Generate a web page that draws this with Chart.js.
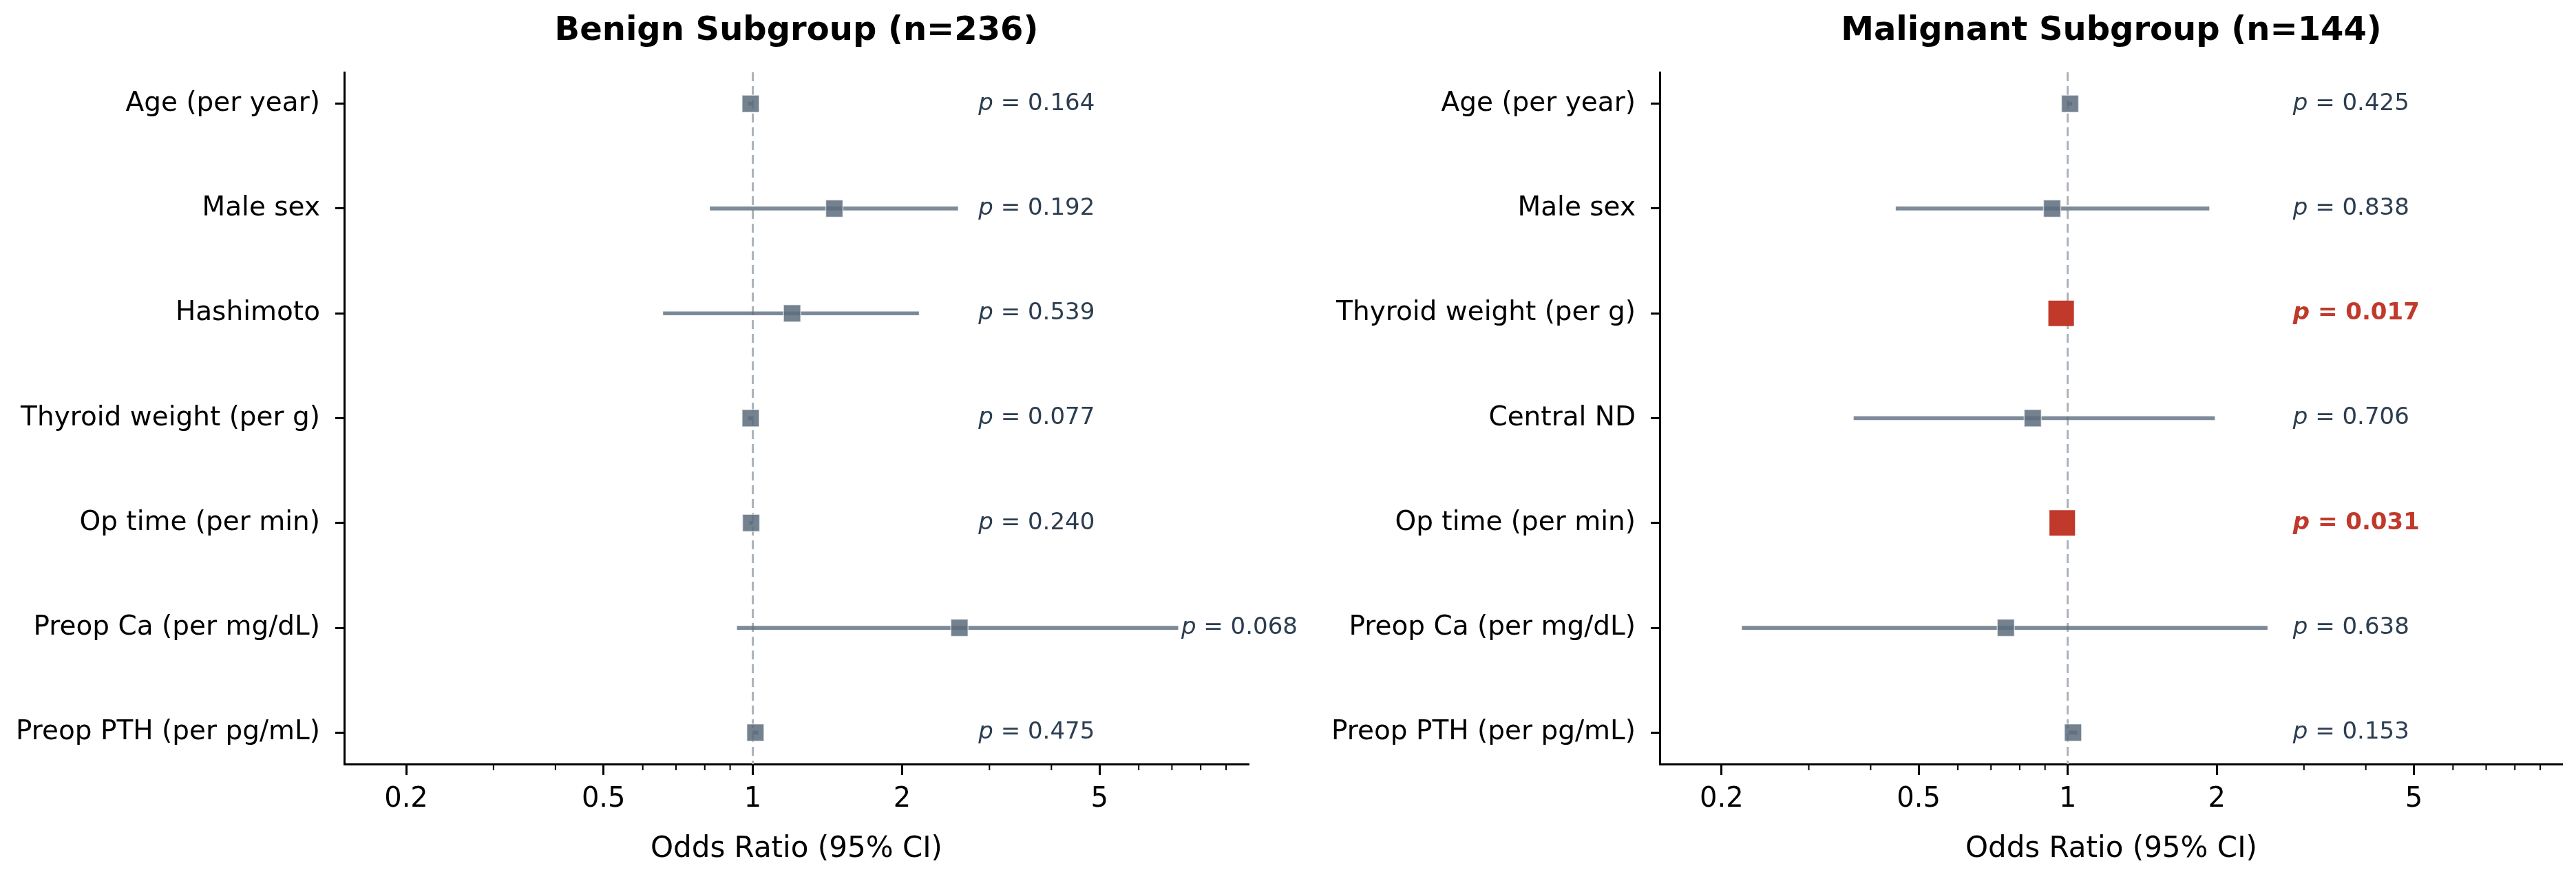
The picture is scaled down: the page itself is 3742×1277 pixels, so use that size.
<!DOCTYPE html>
<html>
<head>
<meta charset="utf-8">
<script src="https://cdn.jsdelivr.net/npm/chart.js@4.4.0/dist/chart.umd.min.js"></script>
<style>
  html, body { margin: 0; padding: 0; background: #fff; overflow: hidden; }
  #wrap { position: relative; width: 3742px; height: 1277px; }
  #wrap canvas { position: absolute; top: 0; }
</style>
</head>
<body>
<div id="wrap">
  <canvas id="chartBenign" width="1910" height="1277" style="left:0"></canvas>
  <canvas id="chartMalignant" width="1832" height="1277" style="left:1910px"></canvas>
</div>
<script>
// benign subgroup (n=236)
const benignFactors = ['Age (per year)', 'Male sex', 'Hashimoto', 'Thyroid weight (per g)',
  'Op time (per min)', 'Preop Ca (per mg/dL)', 'Preop PTH (per pg/mL)'];
const benignOR   = [0.99, 1.46, 1.20, 0.99, 0.992, 2.61, 1.012];
const benignLow  = [0.98, 0.82, 0.66, 0.98, 0.985, 0.93, 1.00];
const benignHigh = [1.00, 2.59, 2.16, 1.00, 1.00, 7.20, 1.025];
const benignP    = ['0.164', '0.192', '0.539', '0.077', '0.240', '0.068', '0.475'];

// malignant subgroup (n=144)
const malignantFactors = ['Age (per year)', 'Male sex', 'Thyroid weight (per g)', 'Central ND',
  'Op time (per min)', 'Preop Ca (per mg/dL)', 'Preop PTH (per pg/mL)'];
const malignantOR   = [1.011, 0.93, 0.97, 0.85, 0.975, 0.75, 1.025];
const malignantLow  = [1.00, 0.45, 0.95, 0.37, 0.955, 0.22, 1.005];
const malignantHigh = [1.02, 1.93, 0.99, 1.98, 0.995, 2.53, 1.045];
const malignantP    = ['0.425', '0.838', '0.017', '0.706', '0.031', '0.638', '0.153'];

const xTicks = [0.2, 0.5, 1, 2, 5];
const xMinorTicks = [0.3, 0.4, 0.6, 0.7, 0.8, 0.9, 3, 4, 6, 7, 8, 9];

const slate = 'rgba(93,109,126,0.8)';
const slateMarker = 'rgba(93,109,126,0.86)';
const red = '#c0392b';
const textGray = '#2c3e50';
const refGray = '#aab3bb';
const pTextAt = 2.85;

Chart.defaults.font.family = '"DejaVu Sans", sans-serif';
Chart.defaults.color = '#000';

const forestExtras = {
  id: 'forestExtras',
  afterDraw(chart, args, opts) {
    const { ctx, chartArea, scales: { x, y } } = chart;
    ctx.save();
    // minor x ticks
    ctx.strokeStyle = '#000';
    ctx.lineWidth = 2;
    xMinorTicks.forEach(v => {
      const px = x.getPixelForValue(v);
      ctx.beginPath();
      ctx.moveTo(px, chartArea.bottom);
      ctx.lineTo(px, chartArea.bottom + 9);
      ctx.stroke();
    });
    // panel title over the axes
    ctx.font = 'bold 48px "DejaVu Sans"';
    ctx.fillStyle = '#000';
    ctx.textAlign = 'center';
    ctx.textBaseline = 'middle';
    ctx.fillText(opts.title, (chartArea.left + chartArea.right) / 2, 46);
    // p-values
    ctx.textAlign = 'left';
    opts.pvals.forEach((p, i) => {
      const sig = parseFloat(p) < 0.05;
      const px = x.getPixelForValue(Math.max(pTextAt, opts.high[i] * 1.015));
      const py = y.getPixelForValue(i);
      const weight = sig ? 'bold ' : '';
      ctx.fillStyle = sig ? red : textGray;
      ctx.font = 'italic ' + weight + '34px "DejaVu Sans"';
      ctx.fillText('p', px, py);
      const w = ctx.measureText('p').width;
      ctx.font = weight + '34px "DejaVu Sans"';
      ctx.fillText(' = ' + p, px + w, py);
    });
    ctx.restore();
  }
};

function forest(el, title, factors, or, lo, hi, pvals, axisWidth, padRight) {
  const rows = factors.map((_, i) => i);
  const sig = pvals.map(p => parseFloat(p) < 0.05);
  return new Chart(el, {
    type: 'line',
    data: {
      datasets: [
        {
          type: 'line', label: 'OR', order: 0, showLine: false,
          data: rows.map(i => ({ x: or[i], y: i })),
          pointStyle: 'rect',
          pointRadius: sig.map(s => s ? 25.2 : 17.6),
          pointBackgroundColor: sig.map(s => s ? red : slateMarker),
          pointBorderColor: sig.map(s => s ? red : 'rgba(255,255,255,0.6)'),
          pointBorderWidth: 1.5
        },
        {
          type: 'bar', label: '95% CI', order: 1, indexAxis: 'y',
          data: rows.map(i => ({ x: [lo[i], hi[i]], y: i })),
          backgroundColor: sig.map(s => s ? red : slate),
          barThickness: 5, borderWidth: 0, borderSkipped: false
        },
        {
          type: 'line', label: 'OR = 1', order: 2,
          data: [{ x: 1, y: -0.3 }, { x: 1, y: 6.3 }],
          borderColor: refGray, borderWidth: 3, borderDash: [13, 7],
          pointRadius: 0
        }
      ]
    },
    options: {
      responsive: false,
      devicePixelRatio: 1,
      animation: false,
      layout: { padding: { top: 105, right: padRight, left: 0, bottom: 0 } },
      plugins: {
        legend: { display: false },
        tooltip: { enabled: false },
        forestExtras: { title: title, pvals: pvals, high: hi }
      },
      scales: {
        x: {
          type: 'logarithmic', min: 0.15, max: 10, offset: false,
          afterBuildTicks: s => { s.ticks = xTicks.map(v => ({ value: v })); },
          afterFit: s => { s.height = 167; },
          ticks: { font: { size: 40 }, padding: 12, autoSkip: false, maxRotation: 0,
                   callback: v => String(v) },
          grid: { offset: false, drawOnChartArea: false, drawTicks: true,
                  tickLength: 16, tickWidth: 3, tickColor: '#000' },
          border: { display: true, color: '#000', width: 3 },
          title: { display: true, text: 'Odds Ratio (95% CI)', font: { size: 42 },
                   padding: { top: 0, bottom: 18 } }
        },
        y: {
          type: 'linear', min: -0.3, max: 6.3, reverse: true, offset: false,
          afterBuildTicks: s => { s.ticks = rows.map(i => ({ value: i })); },
          afterFit: s => { s.width = axisWidth; },
          ticks: { font: { size: 39 }, padding: 22, autoSkip: false,
                   callback: v => factors[v] },
          grid: { offset: false, drawOnChartArea: false, drawTicks: true,
                  tickLength: 13, tickWidth: 3, tickColor: '#000' },
          border: { display: true, color: '#000', width: 3 }
        }
      }
    },
    plugins: [forestExtras]
  });
}

forest(document.getElementById('chartBenign'), 'Benign Subgroup (n=236)',
  benignFactors, benignOR, benignLow, benignHigh, benignP, 500, 96);
forest(document.getElementById('chartMalignant'), 'Malignant Subgroup (n=144)',
  malignantFactors, malignantOR, malignantLow, malignantHigh, malignantP, 501, 15);
</script>
</body>
</html>
